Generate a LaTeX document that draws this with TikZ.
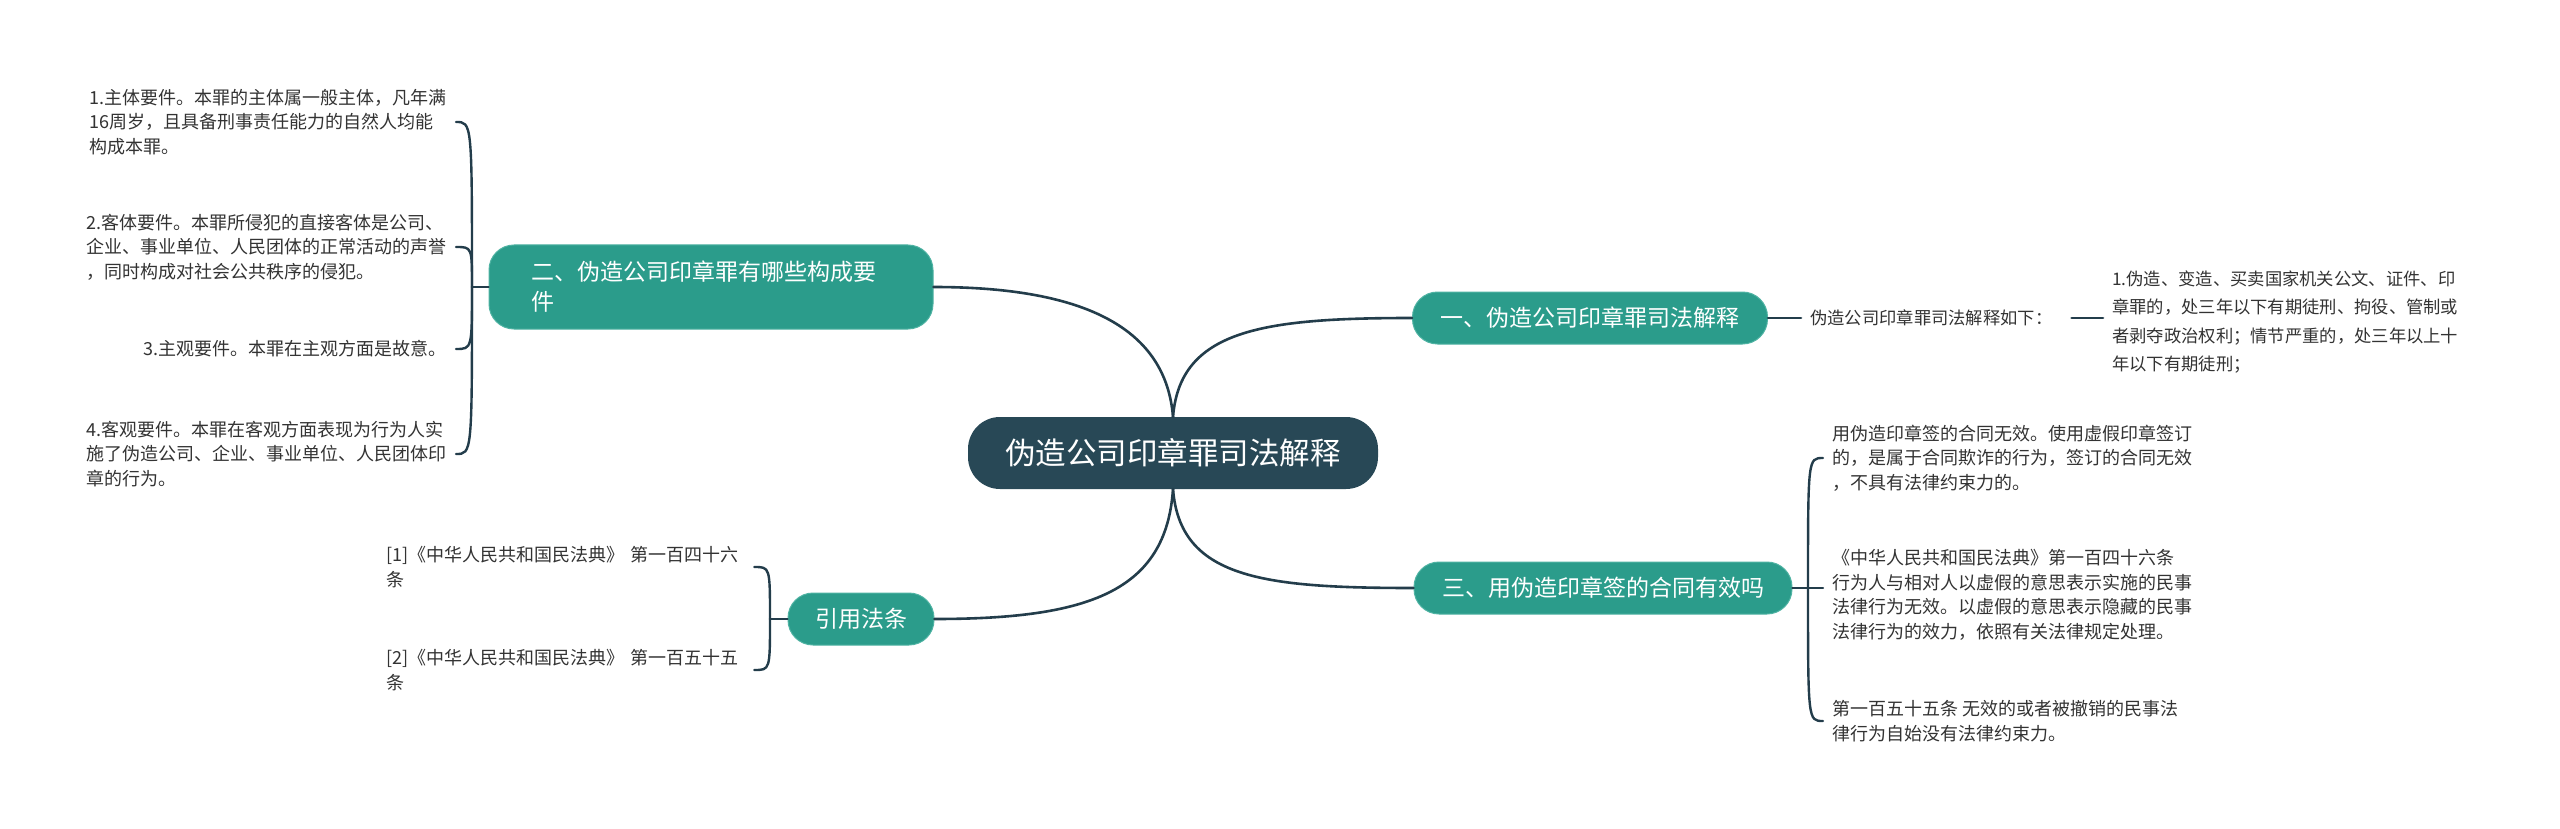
\documentclass[tikz,border=0pt]{standalone}
\usepackage{fontspec}
\setmainfont{Noto Sans CJK SC}
\definecolor{rootc}{HTML}{284856}
\definecolor{tealc}{HTML}{2B9C8B}
\definecolor{tealedge}{HTML}{4FB3A3}
\definecolor{linec}{HTML}{233D4B}
\definecolor{leafc}{HTML}{333333}
\begin{document}
\begin{tikzpicture}[x=1pt,y=-1pt,
  root/.style={fill=rootc, rounded corners=32, minimum width=410, minimum height=72,
    text=white, inner sep=0, font=\fontsize{30.5}{36}\selectfont},
  branch/.style={fill=tealc, draw=tealedge, line width=1, rounded corners=25, minimum height=52,
    text=white, inner sep=0, font=\fontsize{23}{30}\selectfont},
  leaf/.style={text=leafc, font=\fontsize{18}{24.5}\selectfont, align=left, inner xsep=9, inner ysep=0},
  leafb/.style={text=leafc, font=\fontsize{17.3}{28.5}\selectfont, align=left, inner xsep=9, inner ysep=0},
  conn/.style={draw=linec, line width=2.6, line cap=round},
  brk/.style={draw=linec, line width=2.4, line cap=round}]
\fill[white] (0,0) rectangle (2560,829);
\useasboundingbox (0,0) rectangle (2560,829);

% central node and branches
\node[root] (root) at (1173,453) {伪造公司印章罪司法解释};
\node[branch, minimum width=355] (b1) at (1590,318) {一、伪造公司印章罪司法解释};
\node[branch, minimum width=378] (b3) at (1603,588) {三、用伪造印章签的合同有效吗};
\node[branch, minimum width=444, minimum height=84, text width=360, align=left] (b2) at (711,287)
  {二、伪造公司印章罪有哪些构成要\\件};
\node[branch, minimum width=146] (b4) at (861,619) {引用法条};

\draw[conn] (root.north) .. controls (1180,330) and (1262,318) .. (b1.west);
\draw[conn] (root.north) .. controls (1166,330) and (1088,287) .. (b2.east);
\draw[conn] (root.south) .. controls (1180,578) and (1262,588) .. (b3.west);
\draw[conn] (root.south) .. controls (1166,592) and (1088,619) .. (b4.east);

% branch 1
\node[leaf, font=\fontsize{17.3}{24}\selectfont, anchor=west] (l11) at (1801,318) {伪造公司印章罪司法解释如下：};
\node[leafb, anchor=west] (l12) at (2103,322)
  {1.伪造、变造、买卖国家机关公文、证件、印\\章罪的，处三年以下有期徒刑、拘役、管制或\\者剥夺政治权利；情节严重的，处三年以上十\\年以下有期徒刑；};
\draw[conn] (b1.east) -- (l11.west);
\draw[conn, shorten <=10] (l11.east) -- (l12.west |- l11.east);

% branch 3
\coordinate (j3) at (1808,588);
\node[leaf, anchor=west] (l31) at (1823,458)
  {用伪造印章签的合同无效。使用虚假印章签订\\的，是属于合同欺诈的行为，签订的合同无效\\，不具有法律约束力的。};
\node[leaf, anchor=west] (l32) at (1823,595)
  {《中华人民共和国民法典》第一百四十六条\\行为人与相对人以虚假的意思表示实施的民事\\法律行为无效。以虚假的意思表示隐藏的民事\\法律行为的效力，依照有关法律规定处理。};
\node[leaf, anchor=west] (l33) at (1823,721)
  {第一百五十五条 无效的或者被撤销的民事法\\律行为自始没有法律约束力。};
\draw[conn] (b3.east) -- (j3);
\draw[brk] (j3) .. controls (1808,458) and (1808,458) .. (l31.west);
\draw[brk] (j3) -- (l32.west |- j3);
\draw[brk] (j3) .. controls (1808,721) and (1808,721) .. (l33.west);

% branch 2
\coordinate (j2) at (472,287);
\node[leaf, anchor=east] (l21) at (456,122)
  {1.主体要件。本罪的主体属一般主体，凡年满\\16周岁，且具备刑事责任能力的自然人均能\\构成本罪。};
\node[leaf, anchor=east] (l22) at (456,247)
  {2.客体要件。本罪所侵犯的直接客体是公司、\\企业、事业单位、人民团体的正常活动的声誉\\，同时构成对社会公共秩序的侵犯。};
\node[leaf, anchor=east] (l23) at (456,349) {3.主观要件。本罪在主观方面是故意。};
\node[leaf, anchor=east] (l24) at (456,454)
  {4.客观要件。本罪在客观方面表现为行为人实\\施了伪造公司、企业、事业单位、人民团体印\\章的行为。};
\draw[conn] (b2.west) -- (j2);
\draw[brk] (j2) .. controls (472,122) and (472,122) .. (l21.east);
\draw[brk] (j2) .. controls (472,247) and (472,247) .. (l22.east);
\draw[brk] (j2) .. controls (472,349) and (472,349) .. (l23.east);
\draw[brk] (j2) .. controls (472,454) and (472,454) .. (l24.east);

% branch 4
\coordinate (j4) at (770,619);
\node[leaf, anchor=west, text width=359] (l41) at (377,567)
  {[1]《中华人民共和国民法典》 第一百四十六\\条};
\node[leaf, anchor=west, text width=359] (l42) at (377,670)
  {[2]《中华人民共和国民法典》 第一百五十五\\条};
\draw[conn] (b4.west) -- (j4);
\draw[brk] (j4) .. controls (770,567) and (770,567) .. (l41.east);
\draw[brk] (j4) .. controls (770,670) and (770,670) .. (l42.east);
\end{tikzpicture}
\end{document}
